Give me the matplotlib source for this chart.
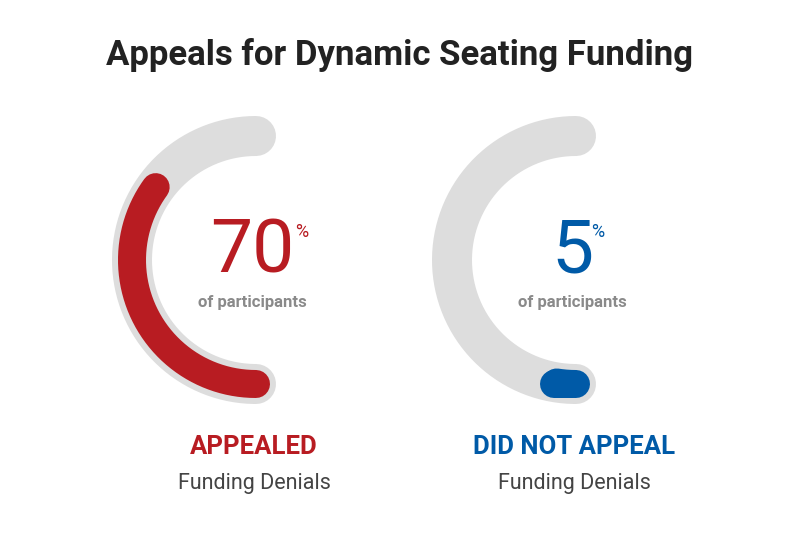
import numpy as np
import matplotlib.pyplot as plt

# data
labels = ["APPEALED", "DID NOT APPEAL"]
values = [70, 5]
colors = ["#b81c22", "#005aa7"]
subtitle = "Funding Denials"

fig = plt.figure(figsize=(8, 5.43), dpi=100)
ax = fig.add_axes([0, 0, 1, 1])
ax.set_xlim(0, 800)
ax.set_ylim(543, 0)
ax.axis("off")

fig.text(0.5, 1 - 55 / 543, "Appeals for Dynamic Seating Funding", ha="center", va="center",
         fontsize=25, fontweight="bold", family="Roboto", color="#222222")

centers = [256, 576]
cy = 260
r = 124
track_px = 40
bar_px = 28

for cx, val, col, lab in zip(centers, values, colors, labels):
    # gray track: left half circle from top to bottom
    t = np.linspace(np.pi / 2, 3 * np.pi / 2, 200)
    ax.plot(cx + r * np.cos(t), cy - r * np.sin(t), color="#dddddd",
            lw=track_px * 0.72, solid_capstyle="round")
    # value arc from bottom upward
    t2 = np.linspace(3 * np.pi / 2, 3 * np.pi / 2 - np.pi * val / 100, 200)
    ax.plot(cx + r * np.cos(t2), cy - r * np.sin(t2), color=col,
            lw=bar_px * 0.72, solid_capstyle="round")
    if val <= 10:
        ax.plot([cx - 22, cx - 4], [cy + r, cy + r], color=col,
                lw=bar_px * 0.72, solid_capstyle="round")

    num = str(val)
    cxt = cx - 4
    ax.text(cxt, 252, num, ha="center", va="center", fontsize=54,
            family="Roboto", fontweight="normal", color=col)
    off = 50 if len(num) == 2 else 26
    ax.text(cxt + off, 232, "%", ha="center", va="center", fontsize=13,
            family="Roboto", fontweight="normal", color=col)
    ax.text(cxt, 302, "of participants", ha="center", va="center", fontsize=12,
            family="Roboto", fontweight="bold", color="#8a8a8a")
    ax.text(cxt + 2, 447, lab, ha="center", va="center", fontsize=18.5,
            family="Roboto", fontweight="bold", color=col)
    ax.text(cxt + 2, 484, subtitle, ha="center", va="center", fontsize=15.5,
            family="Roboto", fontweight="normal", color="#444444")

fig.savefig("out.png", dpi=100)
